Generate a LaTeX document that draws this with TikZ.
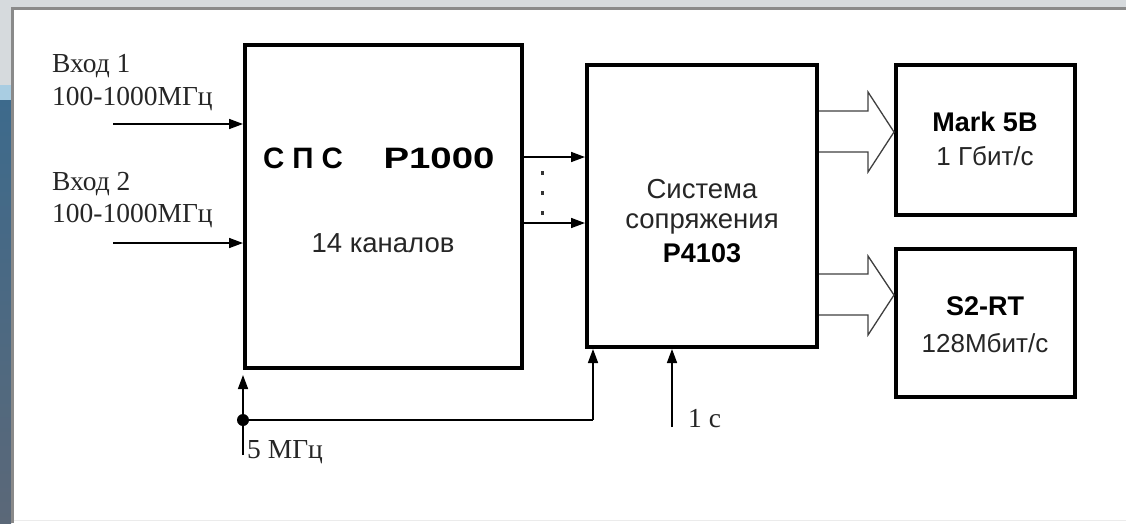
\documentclass[tikz,border=0pt]{standalone}
\usepackage{fontspec}
\setmainfont{Liberation Serif}
\newfontfamily\arialf{Liberation Sans}
\usetikzlibrary{arrows.meta}
\definecolor{frameg}{HTML}{D6DADD}
\definecolor{borderg}{HTML}{8A8A8A}
\definecolor{stripa}{HTML}{A9CDE2}
\definecolor{stripb}{HTML}{3D6A8C}
\definecolor{stripc}{HTML}{5B6878}
\tikzset{
  blk/.style={draw=black, line width=4pt, fill=white, inner sep=0pt},
  lbl/.style={font=\fontsize{27.5}{30}\selectfont, inner sep=0pt, text=black!85},
  sansl/.style={font=\arialf\fontsize{27.5}{30}\selectfont, inner sep=0pt, text=black!85},
  sansr/.style={font=\arialf\fontsize{26}{30}\selectfont, inner sep=0pt, text=black!85},
  sansb/.style={font=\arialf\bfseries\fontsize{27}{30}\selectfont, inner sep=0pt},
  titleb/.style={font=\arialf\bfseries\fontsize{29.5}{32}\selectfont, inner sep=0pt},
  sig/.style={draw=black, line width=1.6pt, -{Triangle[length=14pt,width=10pt]}},
  wire/.style={draw=black, line width=1.6pt},
  bigarr/.style={draw=black!75, line width=1.3pt, line join=miter}
}
\begin{document}
\begin{tikzpicture}[x=1pt,y=-1pt]
\useasboundingbox (0,0) rectangle (1126,523);
% frame / screenshot background
\fill[white] (0,0) rectangle (1126,523);
\fill[frameg] (0,0) rectangle (1126,7);
\fill[frameg] (0,0) rectangle (11,85);
\fill[stripa] (0,85) rectangle (11,100);
\shade[top color=stripb, bottom color=stripc] (0,100) rectangle (11,523);
\draw[borderg, line width=3pt] (12.5,8.5) -- (1126,8.5);
\draw[borderg, line width=3pt] (12.5,7) -- (12.5,523);
\draw[black!8, line width=1pt] (14,520.5) -- (1126,520.5);

% blocks
\node[blk, minimum width=277pt, minimum height=323pt] (sps) at (383.5,206.5) {};
\node[blk, minimum width=230pt, minimum height=282pt] (sys) at (702,206) {};
\node[blk, minimum width=179pt, minimum height=150pt] (mark) at (985.5,140) {};
\node[blk, minimum width=179pt, minimum height=148pt] (s2) at (985.5,323) {};

% block texts
\node[titleb, anchor=base] (spsA) at (303,168) {С\hspace{8pt}П\hspace{8pt}С};
\node[titleb, anchor=base] (spsB) at (439,168) {\scalebox{1.3}[1]{Р1000}};
\node[sansl, anchor=base] (ch) at (383,252) {14 каналов};
\node[sansl, anchor=base] (sysA) at (702,198) {Система};
\node[sansl, anchor=base] (sysB) at (702,228) {сопряжения};
\node[sansb, anchor=base] (sysC) at (702,262) {Р4103};
\node[sansb, anchor=base] (markA) at (985,131) {Mark 5B};
\node[sansr, anchor=base] (markB) at (985,165) {1 Гбит/с};
\node[sansb, anchor=base] (s2A) at (985,315) {S2-RT};
\node[sansr, anchor=base] (s2B) at (985,352) {128Мбит/с};

% inputs
\node[lbl, anchor=base west] (in1a) at (52,72) {Вход 1};
\node[lbl, anchor=base west] (in1b) at (52,105) {100-1000МГц};
\node[lbl, anchor=base west] (in2a) at (52,190) {Вход 2};
\node[lbl, anchor=base west] (in2b) at (52,222) {100-1000МГц};
\coordinate (i1) at (113,124);
\coordinate (i2) at (113,243);
\draw[sig] (i1) -- (i1 -| sps.west);
\draw[sig] (i2) -- (i2 -| sps.west);

% channels between blocks
\coordinate (c1) at (522,157);
\coordinate (c2) at (522,223);
\draw[sig] (c1 -| sps.east) -- (c1 -| sys.west);
\draw[sig] (c2 -| sps.east) -- (c2 -| sys.west);
\foreach \yy in {173,193,213} \fill[black!80] (540.5,\yy-2) rectangle (543.5,\yy+2);

% wide hollow arrows
\draw[bigarr] (sys.east |- 0,111) -- (868,111) -- (868,92) -- (mark.west |- 0,132) -- (868,172) -- (868,152) -- (sys.east |- 0,152);
\draw[bigarr] (sys.east |- 0,274) -- (868,274) -- (868,256) -- (s2.west |- 0,295) -- (868,335) -- (868,315) -- (sys.east |- 0,315);

% clock lines
\coordinate (clk) at (243,455);
\coordinate (dot) at (243,420);
\coordinate (bend) at (593,420);
\coordinate (sec) at (672,427);
\draw[wire] (clk) -- (dot);
\draw[sig] (dot) -- (243,375);
\draw[wire] (dot) -- (bend);
\draw[sig] (bend) -- (bend |- sys.south);
\draw[sig] (sec) -- (sec |- sys.south);
\fill[black] (dot) circle (6pt);
\node[lbl, anchor=base west] (f5) at (247,458) {5 МГц};
\node[lbl, anchor=base west] (f1) at (688,427) {1 с};
\end{tikzpicture}
\end{document}
